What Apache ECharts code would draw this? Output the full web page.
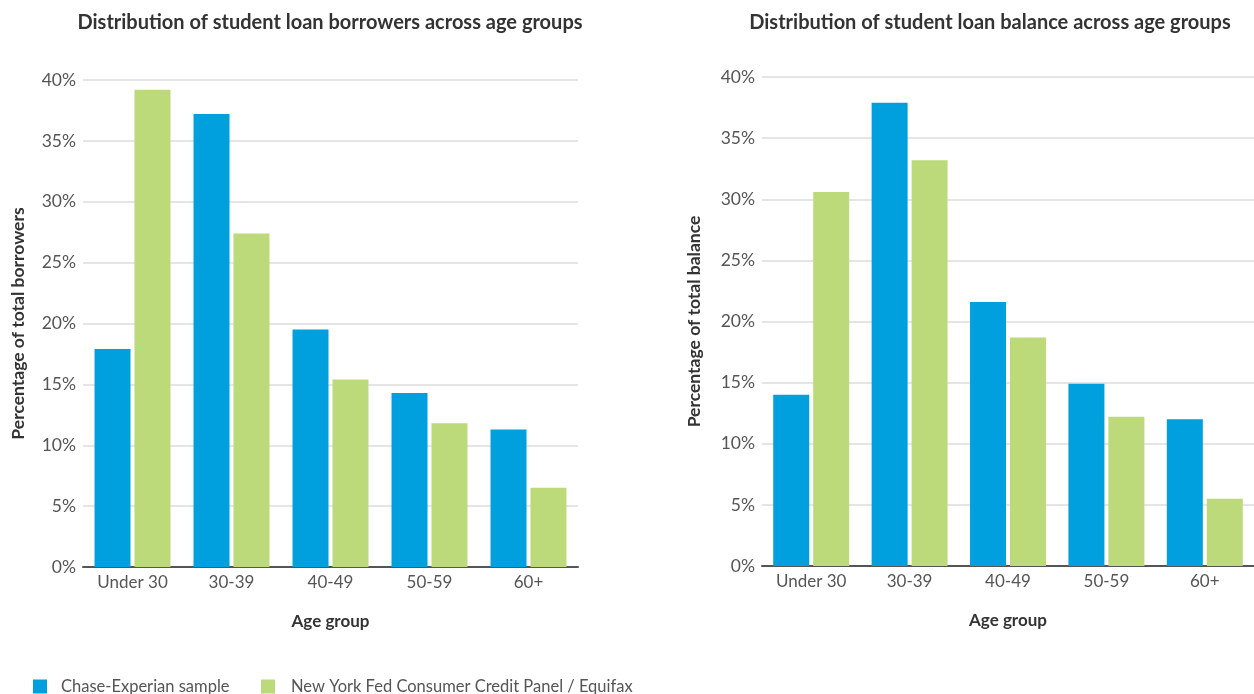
<!DOCTYPE html>
<html>
<head>
<meta charset="utf-8">
<script src="https://cdn.jsdelivr.net/npm/echarts@6/dist/echarts.min.js"></script>
<style>
html,body{margin:0;padding:0;background:#fff;}
#chart{width:1254px;height:694px;}
</style>
</head>
<body>
<div id="chart"></div>
<script>
const categories = ['Under 30', '30-39', '40-49', '50-59', '60+'];
const seriesNames = ['Chase-Experian sample', 'New York Fed Consumer Credit Panel / Equifax'];
const borrowersChase = [17.9, 37.2, 19.5, 14.3, 11.3];
const borrowersNYFed = [39.2, 27.4, 15.4, 11.8, 6.5];
const balanceChase = [14.0, 37.9, 21.6, 14.9, 12.0];
const balanceNYFed = [30.6, 33.2, 18.7, 12.2, 5.5];
const titles = ['Distribution of student loan borrowers across age groups', 'Distribution of student loan balance across age groups'];
const yNames = ['Percentage of total borrowers', 'Percentage of total balance'];
const xName = 'Age group';

const BLUE = '#00a0df';
const GREEN = '#bdda7a';
const FONT = 'Lato, "Liberation Sans", sans-serif';

function xAxis(i) {
  return {
    type: 'category', gridIndex: i, data: categories,
    name: xName, nameLocation: 'middle', nameGap: 46,
    nameTextStyle: {fontFamily: FONT, fontSize: 17, fontWeight: 'bold', color: '#333'},
    axisLine: {lineStyle: {color: '#555', width: 2}},
    axisTick: {length: 10, lineStyle: {color: '#444', width: 1.5}},
    axisLabel: {fontFamily: FONT, fontSize: 17, color: '#555', margin: 7}
  };
}
function yAxis(i, gap) {
  return {
    type: 'value', gridIndex: i, min: 0, max: 40, interval: 5,
    name: yNames[i], nameLocation: 'middle', nameGap: gap,
    nameTextStyle: {fontFamily: FONT, fontSize: 17.5, fontWeight: 'bold', color: '#333'},
    axisLine: {show: false}, axisTick: {show: false},
    axisLabel: {fontFamily: FONT, fontSize: 17.5, color: '#555', margin: 7, formatter: '{value}%'},
    splitLine: {lineStyle: {color: '#dddddd', width: 1.5}}
  };
}
function bar(name, data, color, i) {
  return {
    type: 'bar', name: name, data: data, xAxisIndex: i, yAxisIndex: i,
    barWidth: 36, barGap: '11%', itemStyle: {color: color},
    emphasis: {disabled: true}
  };
}

const chart = echarts.init(document.getElementById('chart'), null, {renderer: 'canvas'});
chart.setOption({
  animation: false,
  backgroundColor: '#fff',
  title: [
    {text: titles[0], left: 330, top: 13, padding: 0, textAlign: 'center',
     textStyle: {fontFamily: FONT, fontSize: 20, fontWeight: 'bold', color: '#333'}},
    {text: titles[1], left: 990, top: 13, padding: 0, textAlign: 'center',
     textStyle: {fontFamily: FONT, fontSize: 20, fontWeight: 'bold', color: '#333'}}
  ],
  legend: [
    {data: [seriesNames[0]], left: 28, top: 673, icon: 'rect', itemWidth: 14, itemHeight: 14,
     textStyle: {fontFamily: FONT, fontSize: 16.5, color: '#555', padding: [0, 0, 0, 9]}},
    {data: [seriesNames[1]], left: 256, top: 673, icon: 'rect', itemWidth: 14, itemHeight: 14,
     textStyle: {fontFamily: FONT, fontSize: 16.5, color: '#555', padding: [0, 0, 0, 11]}}
  ],
  grid: [
    {left: 83, top: 80, width: 495, height: 487},
    {left: 762, top: 77, width: 492, height: 489}
  ],
  xAxis: [xAxis(0), xAxis(1)],
  yAxis: [yAxis(0, 56), yAxis(1, 59)],
  series: [
    bar(seriesNames[0], borrowersChase, BLUE, 0),
    bar(seriesNames[1], borrowersNYFed, GREEN, 0),
    bar(seriesNames[0], balanceChase, BLUE, 1),
    bar(seriesNames[1], balanceNYFed, GREEN, 1)
  ]
});
</script>
</body>
</html>
